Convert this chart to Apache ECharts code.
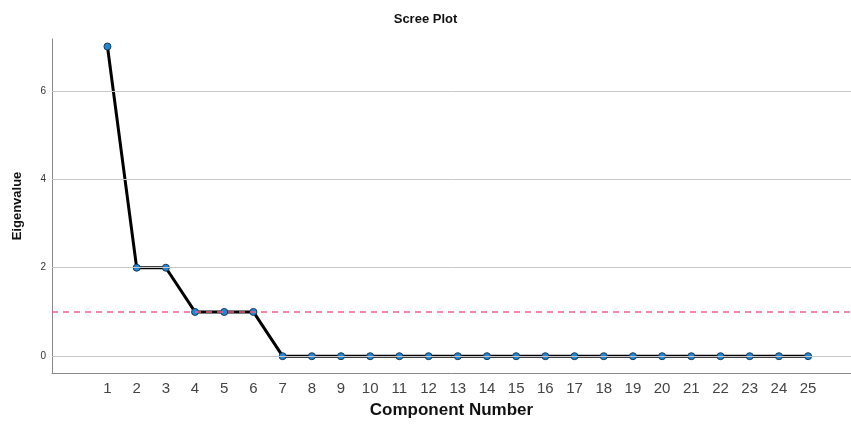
<!DOCTYPE html>
<html>
<head>
<meta charset="utf-8">
<script src="https://cdn.jsdelivr.net/npm/echarts@6/dist/echarts.min.js"></script>
<style>html,body{margin:0;padding:0;background:#fff}#c{width:851px;height:424px}</style>
</head>
<body>
<div id="c"></div>
<script>
const components = [1,2,3,4,5,6,7,8,9,10,11,12,13,14,15,16,17,18,19,20,21,22,23,24,25];
const eigenvalues = [7,2,2,1,1,1,0,0,0,0,0,0,0,0,0,0,0,0,0,0,0,0,0,0,0];
const yTicks = [0,2,4,6];
const referenceLine = 1;

const chart = echarts.init(document.getElementById('c'));
const font = '"Liberation Sans", Arial, sans-serif';
chart.setOption({
  animation: false,
  backgroundColor: '#fff',
  title: {
    text: 'Scree Plot', left: 'center', top: 8,
    textStyle: {fontFamily: font, fontSize: 13, fontWeight: 'bold', color: '#111'}
  },
  grid: {left: 52, right: 0, top: 39, bottom: 51, containLabel: false, outerBoundsMode: 'none'},
  xAxis: {
    type: 'value', min: -0.9, max: 26.47, interval: 0.1,
    name: 'Component Number', nameLocation: 'middle', nameGap: 29,
    nameTextStyle: {fontFamily: font, fontSize: 17, fontWeight: 'bold', color: '#111'},
    axisLine: {show: true, onZero: false, lineStyle: {color: '#888', width: 1}},
    axisTick: {show: false},
    splitLine: {show: false},
    axisLabel: {
      fontFamily: font, fontSize: 15, color: '#444', margin: 8,
      formatter: v => {
        const r = Math.round(v);
        return (Math.abs(v - r) < 1e-6 && components.indexOf(r) >= 0) ? String(r) : '';
      }
    }
  },
  yAxis: {
    type: 'value', min: -0.38, max: 7.17, interval: 0.02,
    name: 'Eigenvalue', nameLocation: 'middle', nameGap: 28,
    nameTextStyle: {fontFamily: font, fontSize: 13, fontWeight: 'bold', color: '#111'},
    axisLine: {show: true, onZero: false, lineStyle: {color: '#888', width: 1}},
    axisTick: {show: false},
    splitLine: {show: false},
    axisLabel: {
      fontFamily: font, fontSize: 10, color: '#333', margin: 6,
      formatter: v => {
        const r = Math.round(v);
        return (Math.abs(v - r) < 1e-6 && yTicks.indexOf(r) >= 0) ? String(r) : '';
      }
    }
  },
  series: [
    {
      type: 'line', silent: true, data: [], z: 1,
      markLine: {
        silent: true, symbol: 'none', label: {show: false},
        lineStyle: {color: '#c8c8c8', width: 1, type: 'solid'},
        data: yTicks.map(t => ({yAxis: t}))
      }
    },
    {
      type: 'line', silent: true, data: [], z: 5,
      markLine: {
        silent: true, symbol: 'none', label: {show: false},
        lineStyle: {color: '#f0608a', width: 1.5, type: [6, 5]},
        data: [{yAxis: referenceLine}]
      }
    },
    {
      type: 'line', z: 3,
      data: components.map((c, i) => [c, eigenvalues[i]]),
      lineStyle: {color: '#000', width: 3},
      symbol: 'circle', symbolSize: 7,
      itemStyle: {color: '#1e88d6', borderColor: '#1b3b58', borderWidth: 1},
      showSymbol: true
    }
  ]
});
</script>
</body>
</html>
